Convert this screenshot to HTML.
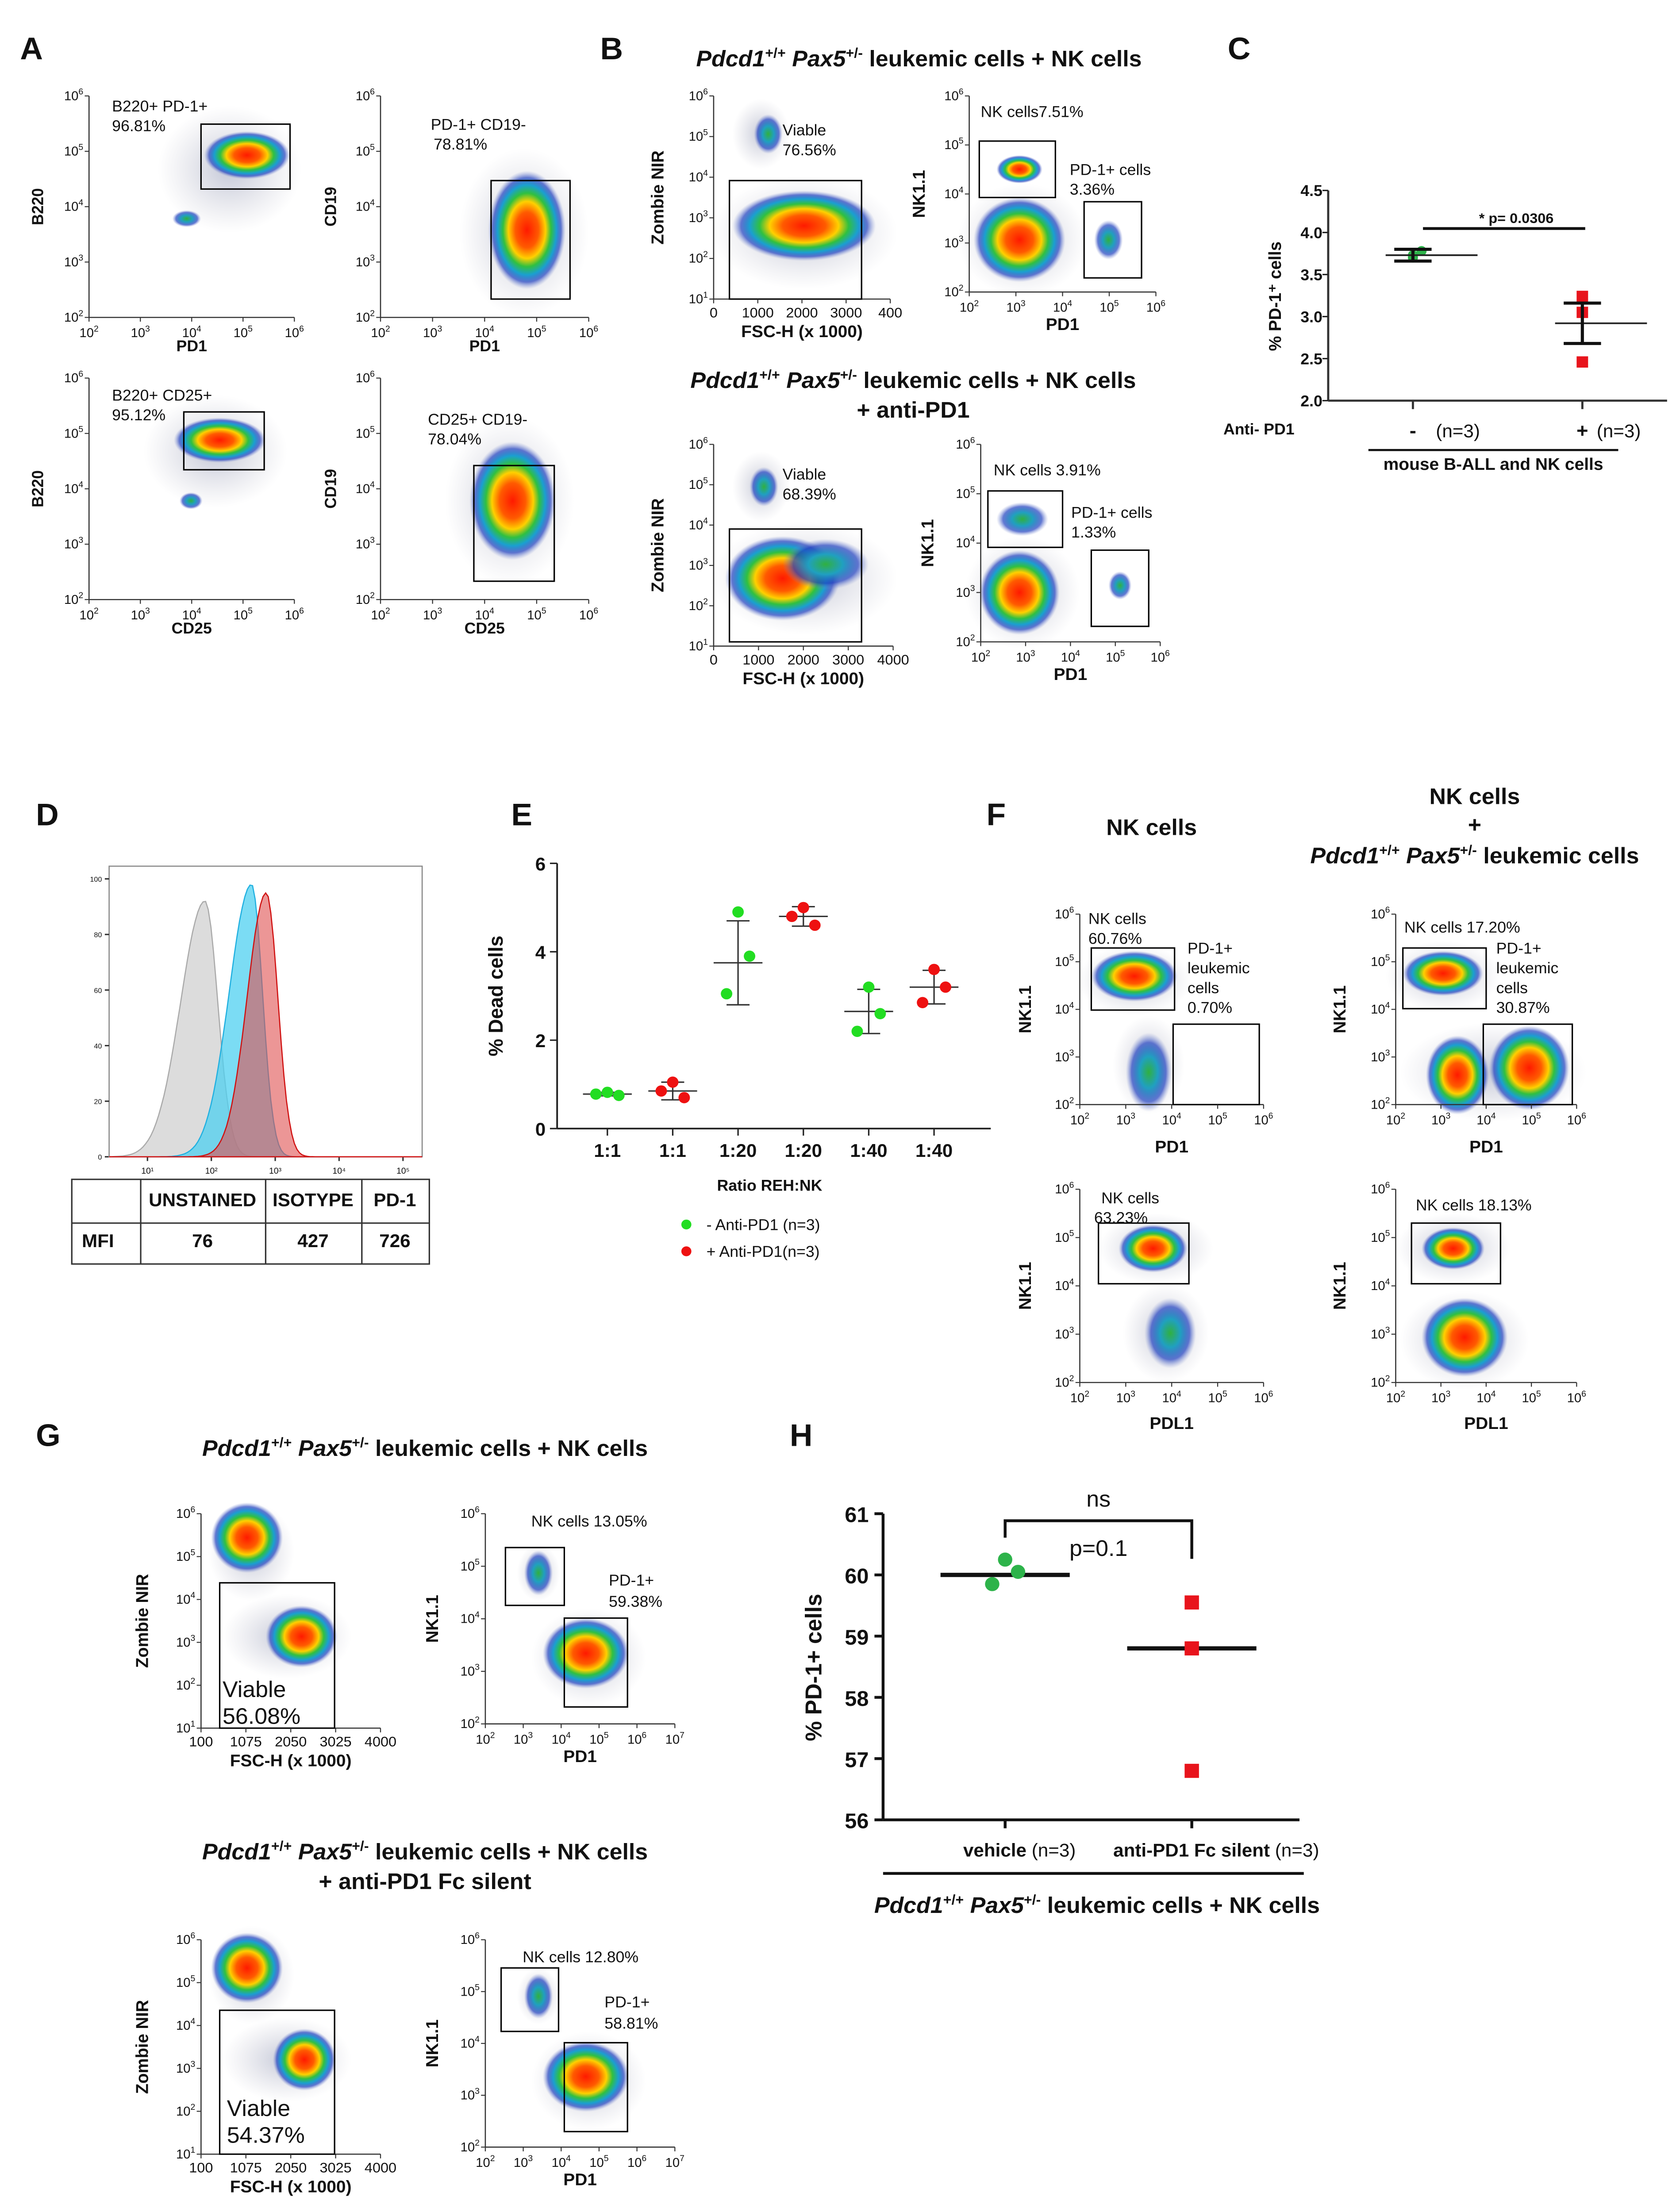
<!DOCTYPE html>
<html><head><meta charset="utf-8"><style>
html,body{margin:0;padding:0;background:#fff;overflow:hidden}
svg{display:block;position:absolute;left:0;top:0;width:100vw;height:100vh}
text{font-family:"Liberation Sans",Arial,sans-serif;fill:#111}
</style></head><body>
<svg id="fig" xmlns="http://www.w3.org/2000/svg" viewBox="0 0 1170 1568" preserveAspectRatio="none">
<defs>
<radialGradient id="heat" cx="50%" cy="50%" r="50%">
<stop offset="0" stop-color="#ff1a00"/>
<stop offset="0.3" stop-color="#ff5a00"/>
<stop offset="0.48" stop-color="#ffd000"/>
<stop offset="0.62" stop-color="#30c040"/>
<stop offset="0.76" stop-color="#1aa0d0"/>
<stop offset="0.88" stop-color="#2040c0" stop-opacity="0.7"/>
<stop offset="1" stop-color="#8090d0" stop-opacity="0"/>
</radialGradient>
<radialGradient id="cool" cx="50%" cy="50%" r="50%">
<stop offset="0" stop-color="#30b040"/>
<stop offset="0.4" stop-color="#20a0c0"/>
<stop offset="0.75" stop-color="#2040c0" stop-opacity="0.7"/>
<stop offset="1" stop-color="#8090d0" stop-opacity="0"/>
</radialGradient>
<radialGradient id="halo" cx="50%" cy="50%" r="50%">
<stop offset="0" stop-color="#8890b0" stop-opacity="0.5"/>
<stop offset="1" stop-color="#aab" stop-opacity="0"/>
</radialGradient>
</defs>
<g id="root"></g>
</svg>
<script>
const NS='http://www.w3.org/2000/svg';
const root=document.getElementById('root');
function el(tag,attrs,parent){const e=document.createElementNS(NS,tag);for(const k in attrs)e.setAttribute(k,attrs[k]);(parent||root).appendChild(e);return e;}
function txt(x,y,s,o){o=o||{};const t=el('text',{x:x,y:y,'font-size':o.size||12,'text-anchor':o.anchor||'start','font-weight':o.bold?'bold':'normal','font-style':o.italic?'italic':'normal',fill:o.fill||'#111'},o.parent);if(o.rot)t.setAttribute('transform','rotate(-90 '+x+' '+y+')');t.textContent=s;return t;}
function richTitle(x,y,parts,size,parent){const t=el('text',{x:x,y:y,'font-size':size,'text-anchor':'middle','font-weight':'bold'},parent);parts.forEach(p=>{const s=el('tspan',p.sup?{'font-size':size*0.62,dy:p.dy}:{dy:p.dy||0},t);if(p.it)s.setAttribute('font-style','italic');s.textContent=p.t;});return t;}
function pdTitle(x,y,extra,size,parent){return richTitle(x,y,[{t:'Pdcd1',it:1},{t:'+/+',sup:1,dy:-6},{t:' Pax5',it:1,dy:6},{t:'+/-',sup:1,dy:-6},{t:' leukemic cells + NK cells'+(extra||''),dy:6}],size,parent);}
function pow(x,y,n,anchor,parent){const t=el('text',{x:x,y:y,'font-size':9,'text-anchor':anchor||'middle'},parent);const a=el('tspan',{},t);a.textContent='10';const b=el('tspan',{'font-size':6,dy:-4},t);b.textContent=n;return t;}

function flow(name,x0,y0,x1,y1,opt){
  const g=el('g',{});
  
  
  (opt.halos||[]).forEach(h=>{el('ellipse',{cx:h[0],cy:h[1],rx:h[2],ry:h[3],fill:'url(#halo)'},g);});
  (opt.blobs||[]).forEach(b=>{const e=el('ellipse',{cx:b[0],cy:b[1],rx:b[2],ry:b[3],fill:'url(#'+(b[4]||'heat')+')'},g);
    
    });
  el('line',{x1:x0,y1:y0,x2:x0,y2:y1,stroke:'#333','stroke-width':0.8},g);
  el('line',{x1:x0,y1:y1,x2:x1,y2:y1,stroke:'#333','stroke-width':0.8},g);
  (opt.gates||[]).forEach(r=>{const e=el('rect',{x:r[0],y:r[1],width:r[2]-r[0],height:r[3]-r[1],fill:'none',stroke:'#000','stroke-width':1},g);
    
    });
  const yt=opt.yt||[2,3,4,5,6];
  yt.forEach((n,i)=>{const y=y1-(y1-y0)*i/(yt.length-1);el('line',{x1:x0-3,y1:y,x2:x0,y2:y,stroke:'#333','stroke-width':0.7},g);pow(x0-4,y+3,n,'end',g);});
  if(opt.xlin){opt.xlin.forEach((s,i)=>{const x=x0+(x1-x0)*i/(opt.xlin.length-1);el('line',{x1:x,y1:y1,x2:x,y2:y1+3,stroke:'#333','stroke-width':0.7},g);txt(x,y1+13,s,{size:10,anchor:'middle',parent:g});});}
  else{const xt=opt.xt||[2,3,4,5,6];xt.forEach((n,i)=>{const x=x0+(x1-x0)*i/(xt.length-1);el('line',{x1:x,y1:y1,x2:x,y2:y1+3,stroke:'#333','stroke-width':0.7},g);pow(x,y1+14,n,'middle',g);});}
  if(opt.xl)txt((x0+x1)/2+(opt.xlo||0),y1+(opt.xly||27),opt.xl,{size:opt.xls||11,bold:1,anchor:'middle',parent:g});
  if(opt.yl)txt(opt.ylx,(y0+y1)/2,opt.yl,{size:opt.yls||11,bold:1,anchor:'middle',rot:1,parent:g});
  (opt.texts||[]).forEach(t=>txt(t[0],t[1],t[2],{size:t[3]||11,parent:g}));
}
function label(x,y,s){const t=txt(x,y,s,{size:22,bold:1});}

/* ---------- Panel A ---------- */
label(14,42,'A');
flow('flow-a-b220-pd1',62,68,205,225,{yl:'B220',ylx:30,xl:'PD1',xly:24,halos:[[160,120,50,45]],blobs:[[172,110,30,17],[130,155,10,6,'cool']],gates:[[140,88,202,134]],texts:[[78,79,'B220+ PD-1+'],[78,93,'96.81%']]});
flow('flow-a-cd19-pd1',265,68,410,225,{yl:'CD19',ylx:234,xl:'PD1',xly:24,halos:[[365,165,45,60]],blobs:[[367,163,27,42]],gates:[[342,128,397,212]],texts:[[300,92,'PD-1+ CD19-'],[302,106,'78.81%']]});
flow('flow-a-b220-cd25',62,268,205,425,{yl:'B220',ylx:30,xl:'CD25',xly:24,halos:[[150,320,50,40]],blobs:[[153,312,32,16],[133,355,8,6,'cool']],gates:[[128,292,184,333]],texts:[[78,284,'B220+ CD25+'],[78,298,'95.12%']]});
flow('flow-a-cd19-cd25',265,268,410,425,{yl:'CD19',ylx:234,xl:'CD25',xly:24,halos:[[355,355,45,60]],blobs:[[357,355,30,42]],gates:[[330,330,386,412]],texts:[[298,301,'CD25+ CD19-'],[298,315,'78.04%']]});

/* ---------- Panel B ---------- */
label(418,42,'B');
pdTitle(640,47,'',16);
flow('flow-b-viability',497,68,620,212,{xlin:['0','1000','2000','3000','400'],xl:'FSC-H (x 1000)',xls:12,ylx:462,yl:'Zombie NIR',yt:[1,2,3,4,5,6],yls:12,halos:[[560,165,65,40],[530,95,20,25]],blobs:[[560,160,50,25],[535,95,10,14,'cool']],gates:[[508,128,600,212]],texts:[[545,96,'Viable'],[545,110,'76.56%']]});
flow('flow-b-nk-pd1',675,68,805,207,{xl:'PD1',xls:12,yl:'NK1.1',ylx:644,yls:12,halos:[[712,170,45,40]],blobs:[[710,170,32,30],[710,120,16,10],[772,170,10,14,'cool']],gates:[[682,100,735,140],[755,143,795,197]],texts:[[683,83,'NK cells7.51%'],[745,124,'PD-1+  cells'],[745,138,'3.36%']]});
pdTitle(636,275,'',16);
txt(636,296,'+ anti-PD1',{size:16,bold:1,anchor:'middle'});
flow('flow-b-viability-anti',497,315,622,458,{xlin:['0','1000','2000','3000','4000'],xl:'FSC-H (x 1000)',xls:12,ylx:462,yl:'Zombie NIR',yt:[1,2,3,4,5,6],yls:12,halos:[[560,410,65,40],[530,345,20,25]],blobs:[[545,410,40,30],[575,400,30,18,'cool'],[532,345,10,14,'cool']],gates:[[508,375,600,455]],texts:[[545,340,'Viable'],[545,354,'68.39%']]});
flow('flow-b-nk-pd1-anti',683,315,808,455,{xl:'PD1',xls:12,yl:'NK1.1',ylx:650,yls:12,halos:[[712,420,40,40]],blobs:[[710,420,28,30],[712,368,18,12,'cool'],[780,415,8,10,'cool']],gates:[[688,348,740,388],[760,390,800,444]],texts:[[692,337,'NK cells 3.91%'],[746,367,'PD-1+ cells'],[746,381,'1.33%']]});

/* ---------- Panel C (chart) ---------- */
const cCategories=['-','+'];
const cNLabels=['(n=3)','(n=3)'];
const cGreen=[3.70,3.78,3.73];
const cRed=[3.24,3.05,2.46];
const cMeans=[3.73,2.92];
const cErr=[0.07,0.24];
const cTicks=[2.0,2.5,3.0,3.5,4.0,4.5];
(function(){
  const g=el('g',{});
  
  
  const X0=925,Y0=284,Yt=135,vmin=2,vmax=4.5;
  const ys=v=>Y0-(v-vmin)/(vmax-vmin)*(Y0-Yt);
  const xs=i=>984+i*118;
  el('line',{x1:X0,y1:Yt,x2:X0,y2:Y0,stroke:'#333','stroke-width':1.5},g);
  el('line',{x1:X0,y1:Y0,x2:1161,y2:Y0,stroke:'#333','stroke-width':1.5},g);
  cTicks.forEach(v=>{el('line',{x1:X0-4,y1:ys(v),x2:X0,y2:ys(v),stroke:'#222'},g);const t=txt(X0-4,ys(v)+4,v.toFixed(1),{size:11,bold:1,anchor:'end',parent:g});});
  txt(892,210,'% PD-1⁺ cells',{size:12,bold:1,anchor:'middle',rot:1,parent:g});
  [cGreen,cRed].forEach((arr,i)=>{
    const m=cMeans[i],e=cErr[i],x=xs(i);
    el('line',{x1:x,y1:Y0,x2:x,y2:Y0+6,stroke:'#333','stroke-width':1.5},g);
    arr.forEach((v,j)=>{let p;const ox=i==0?[0,6,0][j]:0;
      if(i==0)p=el('circle',{cx:x+ox,cy:ys(v),r:3.5,fill:'#2db34a'},g);
      else p=el('rect',{x:x-4,y:ys(v)-4,width:8,height:8,fill:'#e8141c'},g);
      
      });
    el('line',{x1:x-19,y1:ys(m),x2:x+45,y2:ys(m),stroke:'#222','stroke-width':1.2},g);
    el('line',{x1:x,y1:ys(m-e),x2:x,y2:ys(m+e),stroke:'#111','stroke-width':2.2},g);
    el('line',{x1:x-13,y1:ys(m-e),x2:x+13,y2:ys(m-e),stroke:'#111','stroke-width':2.2},g);
    el('line',{x1:x-13,y1:ys(m+e),x2:x+13,y2:ys(m+e),stroke:'#111','stroke-width':2.2},g);
  });
  el('line',{x1:991,y1:162,x2:1104,y2:162,stroke:'#111','stroke-width':2},g);
  txt(1056,158,'* p= 0.0306',{size:10,bold:1,anchor:'middle',parent:g});
  txt(852,308,'Anti- PD1',{size:11,bold:1,parent:g});
  cCategories.forEach((c,i)=>{txt(xs(i),310,c,{size:14,bold:1,anchor:'middle',parent:g});txt(xs(i)+(i==0?16:10),310,cNLabels[i],{size:13,parent:g});});
  el('line',{x1:953,y1:319,x2:1127,y2:319,stroke:'#111','stroke-width':1.5},g);
  txt(1040,333,'mouse B-ALL and NK cells',{size:12,bold:1,anchor:'middle',parent:g});
})();
label(855,42,'C');

/* ---------- Panel D ---------- */
label(25,585,'D');
(function(){
  const g=el('g',{});
  
  
  const L=76,R=294,T=614,B=820,Y100=623;
  el('rect',{x:L,y:T,width:R-L,height:B-T,fill:'none',stroke:'#888','stroke-width':0.8},g);
  const xl=d=>L+ (d-0.4)/(5.3-0.4)*(R-L);
  [1,2,3,4,5].forEach(n=>{const x=xl(n);el('line',{x1:x,y1:B,x2:x,y2:B+3,stroke:'#333'},g);const t=el('text',{x:x,y:B+12,'font-size':6,'text-anchor':'middle'},g);t.textContent='10'+['¹','²','³','⁴','⁵'][n-1];});
  [0,20,40,60,80,100].forEach(v=>{const y=B-(B-Y100)*v/100;el('line',{x1:L-3,y1:y,x2:L,y2:y,stroke:'#333'},g);txt(L-5,y+2,String(v),{size:5,anchor:'end',parent:g});});
  function curve(mu,sl,sr,h){let d='M'+L+' '+B;for(let k=0;k<=120;k++){const dd=0.4+k*(4.9/120);const s=dd<mu?sl:sr;const v=h*Math.exp(-Math.pow((dd-mu)/s,2)/2);d+=' L'+xl(dd).toFixed(1)+' '+(B-(B-Y100)*v/100).toFixed(1);}return d+' L'+R+' '+B+' Z';}
  const p1=el('path',{d:curve(1.9,0.38,0.2,92),fill:'#d8d8d8',stroke:'#aaa','stroke-width':0.8,'fill-opacity':0.9},g);
  
  
  const p2=el('path',{d:curve(2.63,0.35,0.17,98),fill:'#4fd0f0',stroke:'#20b0e0','stroke-width':0.8,'fill-opacity':0.75},g);
  
  
  const p3=el('path',{d:curve(2.86,0.3,0.18,95),fill:'#e05050',stroke:'#d01010','stroke-width':0.8,'fill-opacity':0.6},g);
  
  
  const tb=el('g',{},g);
  
  
  el('rect',{x:50,y:836,width:249,height:60,fill:'none',stroke:'#333','stroke-width':1},tb);
  el('line',{x1:50,y1:867,x2:299,y2:867,stroke:'#333'},tb);
  [98,185,252].forEach(x=>el('line',{x1:x,y1:836,x2:x,y2:896,stroke:'#333'},tb));
  txt(141,855,'UNSTAINED',{size:13,bold:1,anchor:'middle',fill:'#777',parent:tb});
  txt(218,855,'ISOTYPE',{size:13,bold:1,anchor:'middle',fill:'#a8c8e0',parent:tb});
  txt(275,855,'PD-1',{size:13,bold:1,anchor:'middle',fill:'#d01010',parent:tb});
  txt(57,884,'MFI',{size:13,bold:1,parent:tb});
  txt(141,884,'76',{size:13,bold:1,anchor:'middle',fill:'#666',parent:tb});
  txt(218,884,'427',{size:13,bold:1,anchor:'middle',fill:'#a8c8e0',parent:tb});
  txt(275,884,'726',{size:13,bold:1,anchor:'middle',fill:'#c01010',parent:tb});
})();

/* ---------- Panel E (chart) ---------- */
const eCategories=['1:1','1:1','1:20','1:20','1:40','1:40'];
const eValues=[[0.82,0.75,0.78],[1.05,0.70,0.85],[4.9,3.9,3.05],[5.0,4.6,4.8],[3.2,2.6,2.2],[3.6,3.2,2.85]];
const eMeans=[0.78,0.85,3.75,4.8,2.65,3.2];
const eSD=[0.04,0.2,0.95,0.22,0.5,0.38];
const eGroupTreated=[false,true,false,true,false,true];
const eTicks=[0,2,4,6];
(function(){
  const g=el('g',{});
  
  
  const X0=388,Y0=800,Yt=612,vmax=6;
  const ys=v=>Y0-v/vmax*(Y0-Yt);
  const xs=i=>423+i*45.5;
  el('line',{x1:X0,y1:Yt,x2:X0,y2:Y0,stroke:'#222','stroke-width':1.2},g);
  el('line',{x1:X0,y1:Y0,x2:690,y2:Y0,stroke:'#222','stroke-width':1.2},g);
  eTicks.forEach(v=>{el('line',{x1:X0-5,y1:ys(v),x2:X0,y2:ys(v),stroke:'#222'},g);txt(X0-8,ys(v)+5,String(v),{size:13,bold:1,anchor:'end',parent:g});});
  txt(350,706,'% Dead cells',{size:14,bold:1,anchor:'middle',rot:1,parent:g});
  eCategories.forEach((c,i)=>{
    const x=xs(i),m=eMeans[i],s=eSD[i];
    el('line',{x1:x,y1:Y0,x2:x,y2:Y0+5,stroke:'#222'},g);
    txt(x,Y0+20,c,{size:13,bold:1,anchor:'middle',parent:g});
    el('line',{x1:x-17,y1:ys(m),x2:x+17,y2:ys(m),stroke:'#333','stroke-width':1},g);
    el('line',{x1:x,y1:ys(m-s),x2:x,y2:ys(m+s),stroke:'#333','stroke-width':1},g);
    el('line',{x1:x-8,y1:ys(m-s),x2:x+8,y2:ys(m-s),stroke:'#333'},g);
    el('line',{x1:x-8,y1:ys(m+s),x2:x+8,y2:ys(m+s),stroke:'#333'},g);
    eValues[i].forEach((v,j)=>{const p=el('circle',{cx:x+(j==0?0:(j==1?8:-8)),cy:ys(v),r:4,fill:eGroupTreated[i]?'#ee1111':'#22dd22'},g);
      
      });
  });
  txt(536,844,'Ratio REH:NK',{size:11,bold:1,anchor:'middle',parent:g});
  const l1=el('g',{},g);
  
  
  el('circle',{cx:478,cy:868,r:3.5,fill:'#22dd22'},l1);txt(492,872,'- Anti-PD1 (n=3)',{size:11,parent:l1});
  const l2=el('g',{},g);
  
  
  el('circle',{cx:478,cy:887,r:3.5,fill:'#ee1111'},l2);txt(492,891,'+ Anti-PD1(n=3)',{size:11,parent:l2});
})();
label(356,585,'E');

/* ---------- Panel F ---------- */
label(687,585,'F');
txt(802,592,'NK cells',{size:16,bold:1,anchor:'middle'});
txt(1027,570,'NK cells',{size:16,bold:1,anchor:'middle'});
txt(1027,590,'+',{size:16,bold:1,anchor:'middle'});
pdTitle(1027,612,'',16).lastChild.textContent=' leukemic cells';
flow('flow-f-nk-pd1',752,648,880,783,{xl:'PD1',xls:12,xly:34,yl:'NK1.1',ylx:718,yls:12,halos:[[790,695,40,25],[800,755,25,35]],blobs:[[790,692,30,18],[800,760,16,28,'cool']],gates:[[760,672,818,716],[817,726,877,783]],texts:[[758,655,'NK cells'],[758,669,'60.76%'],[827,676,'PD-1+'],[827,690,'leukemic'],[827,704,'cells'],[827,718,'0.70%']]});
flow('flow-f-nk-pd1-leuk',972,648,1098,783,{xl:'PD1',xls:12,xly:34,yl:'NK1.1',ylx:937,yls:12,halos:[[1005,692,40,25],[1040,760,65,35]],blobs:[[1005,690,28,16],[1015,762,22,28],[1065,757,28,30]],gates:[[977,672,1035,715],[1033,726,1095,783]],texts:[[978,661,'NK cells 17.20%'],[1042,676,'PD-1+'],[1042,690,'leukemic'],[1042,704,'cells'],[1042,718,'30.87%']]});
flow('flow-f-nk-pdl1',752,843,880,980,{xl:'PDL1',xls:12,xly:33,yl:'NK1.1',ylx:718,yls:12,halos:[[805,885,40,25],[812,945,30,35]],blobs:[[803,885,24,17],[815,945,18,25,'cool']],gates:[[765,867,828,910]],texts:[[767,853,'NK cells'],[762,867,'63.23%']]});
flow('flow-f-nk-pdl1-leuk',972,843,1098,980,{xl:'PDL1',xls:12,xly:33,yl:'NK1.1',ylx:937,yls:12,halos:[[1012,885,40,25],[1020,950,45,35]],blobs:[[1012,885,22,15],[1020,948,30,28]],gates:[[983,867,1045,910]],texts:[[986,858,'NK cells 18.13%']]});

/* ---------- Panel G ---------- */
label(25,1025,'G');
pdTitle(296,1032,'',16);
flow('flow-g-viability',140,1073,265,1225,{xlin:['100','1075','2050','3025','4000'],xl:'FSC-H (x 1000)',xls:12,yl:'Zombie NIR',ylx:103,yls:12,yt:[1,2,3,4,5,6],halos:[[175,1100,30,35],[200,1160,45,30]],blobs:[[172,1090,25,25],[210,1160,25,22]],gates:[[153,1122,233,1225]],texts:[[155,1203,'Viable',16],[155,1222,'56.08%',16]]});
flow('flow-g-nk-pd1',338,1073,470,1222,{xt:[2,3,4,5,6,7],xl:'PD1',xls:12,yl:'NK1.1',ylx:305,yls:12,halos:[[410,1175,40,35],[375,1115,15,20]],blobs:[[408,1172,30,25],[375,1115,10,16,'cool']],gates:[[352,1097,393,1138],[393,1147,437,1210]],texts:[[370,1082,'NK cells 13.05%'],[424,1124,'PD-1+'],[424,1139,'59.38%']]});
pdTitle(296,1318,'',16);
txt(296,1339,'+ anti-PD1 Fc silent',{size:16,bold:1,anchor:'middle'});
flow('flow-g-viability-fc',140,1375,265,1527,{xlin:['100','1075','2050','3025','4000'],xl:'FSC-H (x 1000)',xls:12,yl:'Zombie NIR',ylx:103,yls:12,yt:[1,2,3,4,5,6],halos:[[175,1400,30,35],[200,1460,45,30]],blobs:[[172,1395,25,25],[212,1460,22,22]],gates:[[153,1425,233,1527]],texts:[[158,1500,'Viable',16],[158,1519,'54.37%',16]]});
flow('flow-g-nk-pd1-fc',338,1375,470,1522,{xt:[2,3,4,5,6,7],xl:'PD1',xls:12,yl:'NK1.1',ylx:305,yls:12,halos:[[410,1475,40,35],[375,1415,15,20]],blobs:[[408,1472,30,25],[375,1415,10,16,'cool']],gates:[[349,1395,389,1440],[393,1448,437,1511]],texts:[[364,1391,'NK cells 12.80%'],[421,1423,'PD-1+'],[421,1438,'58.81%']]});

/* ---------- Panel H (chart) ---------- */
const hCategories=['vehicle','anti-PD1 Fc silent'];
const hNLabels=['(n=3)','(n=3)'];
const hVehicle=[60.25,60.05,59.85];
const hAnti=[59.55,58.8,56.8];
const hMeans=[60.0,58.8];
const hTicks=[56,57,58,59,60,61];
(function(){
  const g=el('g',{});
  
  
  const X0=615,Y0=1290,Yt=1073,vmin=56,vmax=61;
  const ys=v=>Y0-(v-vmin)/(vmax-vmin)*(Y0-Yt);
  const xs=i=>700+i*130;
  el('line',{x1:X0,y1:Yt,x2:X0,y2:Y0,stroke:'#111','stroke-width':2},g);
  el('line',{x1:X0,y1:Y0,x2:905,y2:Y0,stroke:'#111','stroke-width':2},g);
  hTicks.forEach(v=>{el('line',{x1:X0-6,y1:ys(v),x2:X0,y2:ys(v),stroke:'#111','stroke-width':2},g);txt(X0-10,ys(v)+6,String(v),{size:15,bold:1,anchor:'end',parent:g});});
  txt(572,1182,'% PD-1+ cells',{size:16,bold:1,anchor:'middle',rot:1,parent:g});
  [hVehicle,hAnti].forEach((arr,i)=>{
    const x=xs(i);
    el('line',{x1:x,y1:Y0,x2:x,y2:Y0+6,stroke:'#111','stroke-width':2},g);
    el('line',{x1:x-45,y1:ys(hMeans[i]),x2:x+45,y2:ys(hMeans[i]),stroke:'#111','stroke-width':3},g);
    arr.forEach((v,j)=>{let p;const ox=i==0?[0,9,-9][j]:0;
      if(i==0)p=el('circle',{cx:x+ox,cy:ys(v),r:5,fill:'#2db34a'},g);
      else p=el('rect',{x:x-5,y:ys(v)-5,width:10,height:10,fill:'#e8141c'},g);
      
      });
    const t=el('text',{x:x+(i==0?10:17),y:1316,'font-size':13,'text-anchor':'middle'},g);
    const a=el('tspan',{'font-weight':'bold'},t);a.textContent=hCategories[i];
    const b=el('tspan',{},t);b.textContent=' '+hNLabels[i];
  });
  el('path',{d:'M700 1090 V1078 H830 V1105',fill:'none',stroke:'#111','stroke-width':2},g);
  txt(765,1068,'ns',{size:16,anchor:'middle',parent:g});
  txt(765,1103,'p=0.1',{size:16,anchor:'middle',parent:g});
  el('line',{x1:615,y1:1328,x2:908,y2:1328,stroke:'#111','stroke-width':2},g);
  pdTitle(764,1356,'',16,g);
})();
label(550,1025,'H');
</script>
</body></html>
